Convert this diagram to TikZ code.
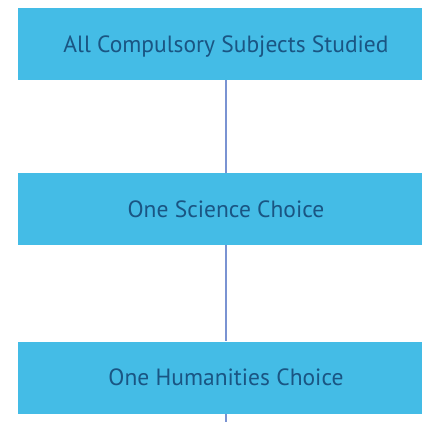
\documentclass[tikz,border=0pt]{standalone}
\usepackage{fontspec}
\setmainfont{PT Sans}
\usepackage{xcolor}
\usetikzlibrary{positioning, calc}

\definecolor{boxcyan}{HTML}{44BCE6}
\definecolor{boxtext}{HTML}{1A5583}
\definecolor{linkblue}{HTML}{7A93D2}

\begin{document}
\begin{tikzpicture}[x=1pt, y=-1pt, font=\fontsize{23.5}{26}\selectfont]
    \tikzset{
        choice/.style={fill=boxcyan, draw=none, text=boxtext, minimum width=416pt, minimum height=72pt, inner sep=0pt, text height=16.5pt, text depth=0pt},
        link/.style={draw=linkblue, line width=1.6pt}
    }
    \useasboundingbox (0,0) rectangle (421,422);
    \node[choice] (compulsory) at (226, 44) {All Compulsory Subjects Studied};
    \node[choice] (science) at (226, 209) {One Science Choice};
    \node[choice] (humanities) at (226, 377.5) {One Humanities Choice};
    \coordinate (tail) at (226, 430);
    \draw[link] (compulsory) -- (science);
    \draw[link] (science) -- (humanities);
    \draw[link] (humanities) -- (tail);
\end{tikzpicture}
\end{document}
